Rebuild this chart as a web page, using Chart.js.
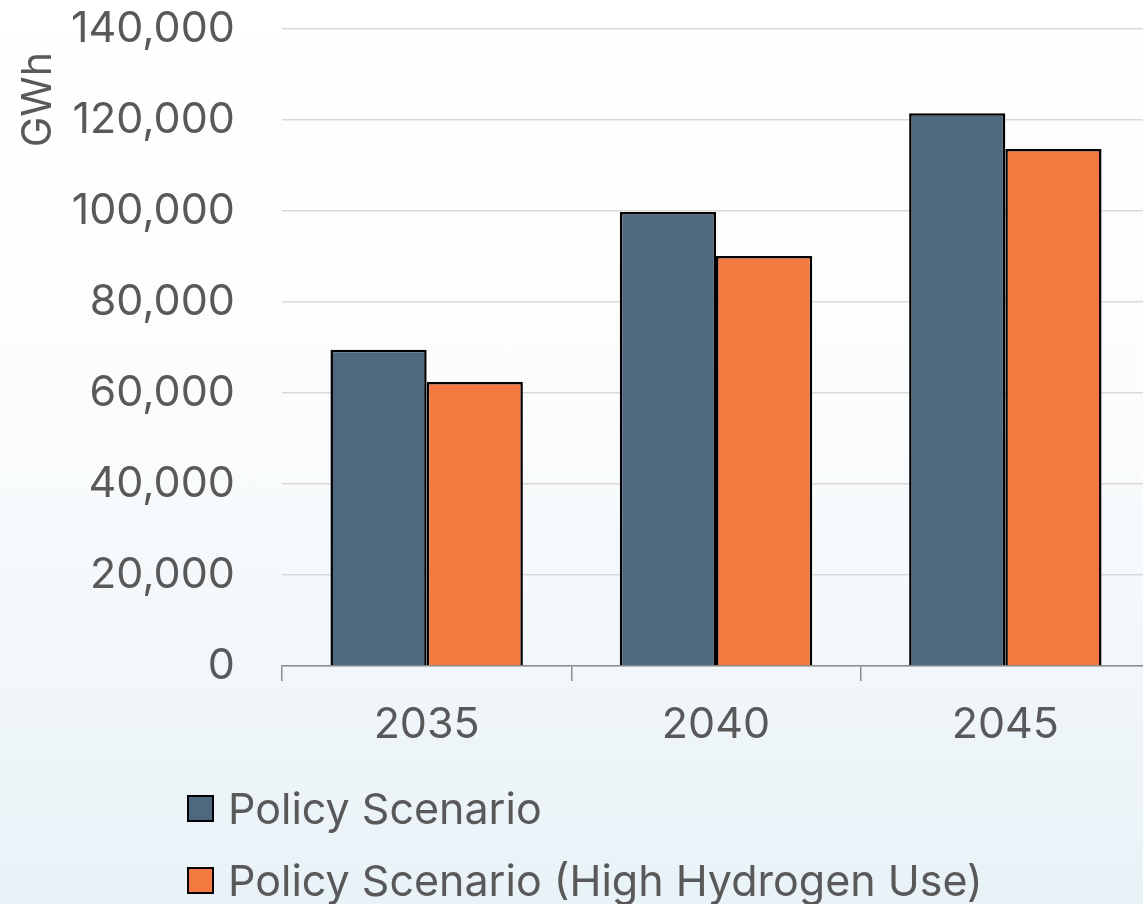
<!DOCTYPE html>
<html>
<head>
<meta charset="utf-8">
<script src="https://cdn.jsdelivr.net/npm/chart.js@4.4.1/dist/chart.umd.min.js"></script>
<style>
  html, body { margin: 0; padding: 0; overflow: hidden; }
  body {
    width: 1143px; height: 904px;
    background: linear-gradient(to bottom, #ffffff 0%, #fbfcfd 45%, #e8f2f7 100%);
    font-family: Inter, "Open Sans", sans-serif;
  }
  #wrap { position: relative; width: 1150px; height: 904px; }
  #legend { position: absolute; left: 187px; top: 772px; color: #595959; font-size: 43px; }
  .item { display: flex; align-items: center; height: 72px; }
  .box { width: 23px; height: 23px; border: 2px solid #000; margin-right: 14px; }
</style>
</head>
<body>
<div id="wrap">
  <canvas id="chart" width="1150" height="904"></canvas>
  <div id="legend"></div>
</div>
<script>
// categories and values (GWh)
const years = ["2035", "2040", "2045"];
const policy = [69500, 99800, 121500];
const highHydrogen = [62400, 90100, 113600];
const seriesNames = ["Policy Scenario", "Policy Scenario (High Hydrogen Use)"];
const seriesColors = ["#4e687f", "#f47a42"];

document.addEventListener('DOMContentLoaded', function() {
    const tickFont = { family: "Inter", size: 43 };

    const data = {
        labels: years,
        datasets: [
            { label: seriesNames[0], data: policy, backgroundColor: seriesColors[0], borderColor: "#000", borderWidth: 2.5 },
            { label: seriesNames[1], data: highHydrogen, backgroundColor: seriesColors[1], borderColor: "#000", borderWidth: 2.5 }
        ]
    };

    const config = {
        type: "bar",
        data: data,
        options: {
            responsive: false,
            animation: false,
            layout: { padding: { top: 29, right: 0, bottom: 0, left: 0 } },
            datasets: { bar: { barPercentage: 1, categoryPercentage: 0.665 } },
            plugins: { legend: { display: false }, tooltip: { enabled: false } },
            scales: {
                x: {
                    grid: { offset: true, drawOnChartArea: false, color: "#8c8c8c", tickLength: 15, lineWidth: 1.5 },
                    border: { color: "#8c8c8c", width: 1.5 },
                    ticks: { color: "#595959", font: tickFont, padding: 18 },
                    afterFit: function(scale) { scale.height = 904 - 666; }
                },
                y: {
                    min: 0,
                    max: 140000,
                    ticks: {
                        stepSize: 20000,
                        color: "#595959",
                        font: tickFont,
                        padding: 47,
                        callback: v => v.toLocaleString("en-US")
                    },
                    grid: { color: "#d9d9d9", lineWidth: 1.5, drawTicks: false },
                    border: { display: false },
                    title: {
                        display: true,
                        text: "GWh  ", // trailing spaces nudge it down a bit
                        align: "end",
                        color: "#595959",
                        font: { family: "Inter", size: 41 },
                        padding: { top: 14, bottom: 0 }
                    },
                    afterFit: function(scale) {
                        scale.width = 282;
                        scale.paddingTop = 0;
                        scale.paddingBottom = 0;
                    }
                }
            }
        }
    };

    const ctx = document.getElementById("chart");
    new Chart(ctx, config);

    // legend built from the series
    const legend = document.getElementById("legend");
    seriesNames.forEach((name, i) => {
        const row = document.createElement("div");
        row.className = "item";
        const box = document.createElement("span");
        box.className = "box";
        box.style.background = seriesColors[i];
        const txt = document.createElement("span");
        txt.textContent = name;
        row.appendChild(box);
        row.appendChild(txt);
        legend.appendChild(row);
    });
});
</script>
</body>
</html>
